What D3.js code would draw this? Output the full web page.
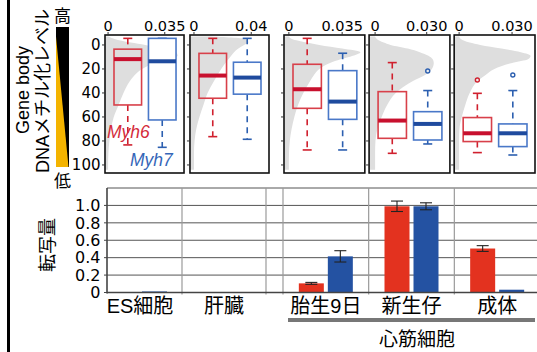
<!DOCTYPE html>
<html><head><meta charset="utf-8">
<script src="https://cdn.jsdelivr.net/npm/d3@7/dist/d3.min.js"></script>
<style>html,body{margin:0;padding:0;background:#fff;}svg{display:block;}</style>
</head><body>
<svg id="c" width="537" height="352"></svg>
<script>
// ---------------- data ----------------
const categories = ["ES細胞", "肝臓", "胎生9日", "新生仔", "成体"];
const cardiacGroupLabel = "心筋細胞";
const genes = ["Myh6", "Myh7"];

// transcription (bar chart)
const exprMyh6 = [0.003, 0.003, 0.105, 0.99, 0.505];
const errMyh6  = [0.001, 0.001, 0.011, 0.06, 0.033];
const exprMyh7 = [0.012, 0.004, 0.415, 0.99, 0.032];
const errMyh7  = [0.002, 0.001, 0.065, 0.04, 0.010];
const barTicks = [0, 0.2, 0.4, 0.6, 0.8, 1.0];
const barTickLabels = ["0", "0.2", "0.4", "0.6", "0.8", "1.0"];

// methylation boxplots: [whiskerLow, q1, median, q3, whiskerHigh]
const boxMyh6 = [[-5.5, 3.5, 11.8, 50, 83.3], [-5.5, 7, 25.5, 44.4, 76.4], [-5.5, 16.1, 36.9, 52.8, 87.5], [14.7, 38.9, 63, 77.8, 90.3], [40.3, 60.5, 73.6, 80.5, 89.7]];
const boxMyh7 = [[-5.5, -5.5, 13.6, 62.5, 85.3], [-5.5, 14.4, 27.2, 41, 78.6], [6.9, 21.4, 47.2, 62, 87.5], [38, 55.6, 65.8, 79.2, 82.5], [38, 65.8, 73.6, 84.7, 91.7]];
const outMyh6 = [[], [], [], [], [29.2]];
const outMyh7 = [[], [], [], [21.7], [25]];
const methTicks = [0, 20, 40, 60, 80, 100];

// density of methylation level (grey silhouettes)
const densLevels = [-7, -5, -2, 0, 3, 6, 9, 12, 15, 20, 25, 30, 40, 50, 60, 70, 80, 90, 100, 104];
const densES     = [0, 0.004, 0.014, 0.023, 0.034, 0.042, 0.043, 0.036, 0.029, 0.021, 0.0165, 0.0135, 0.0095, 0.0065, 0.0035, 0.0018, 0.0008, 0.0002, 0, 0];
const densLiver  = [0.012, 0.036, 0.038, 0.035, 0.031, 0.028, 0.026, 0.024, 0.022, 0.019, 0.0165, 0.014, 0.0095, 0.0066, 0.0038, 0.0016, 0.0004, 0, 0, 0];
const densE9     = [0, 0.002, 0.012, 0.020, 0.035, 0.047, 0.042, 0.034, 0.027, 0.020, 0.0165, 0.014, 0.0095, 0.006, 0.0036, 0.0018, 0.0006, 0.0001, 0, 0];
const densNeo    = [0, 0.001, 0.005, 0.009, 0.019, 0.026, 0.031, 0.0335, 0.0341, 0.033, 0.029, 0.022, 0.012, 0.007, 0.0038, 0.0013, 0.0002, 0, 0, 0];
const densAdult  = [0, 0.001, 0.006, 0.012, 0.024, 0.035, 0.0405, 0.039, 0.030, 0.020, 0.015, 0.0105, 0.006, 0.0035, 0.0015, 0.0002, 0, 0, 0, 0];
const densities = [densES, densLiver, densE9, densNeo, densAdult];
const densAxisLim = [[-0.0019, 0.0469], [-0.0028, 0.0524], [-0.0032, 0.0499], [-0.0035, 0.0435], [-0.0028, 0.043]];
const densTicks = [[0, 0.035], [0, 0.04], [0, 0.035], [0, 0.030], [0, 0.030]];
const densTickLabels = [["0", "0.035"], ["0", "0.04"], ["0", "0.035"], ["0", "0.030"], ["0", "0.030"]];

// ---------------- style ----------------
const NUM = "'DejaVu Sans', sans-serif";
const JP = "'Liberation Sans', 'Noto Sans CJK JP', sans-serif";
const RED_BAR = "#e3321f", BLUE_BAR = "#2452a2";
const geneColor = {Myh6: {box: "#d8404a", med: "#c8102e", wh: "#d0202e", fill: "none"},
                   Myh7: {box: "#4a78c8", med: "#1f4b9e", wh: "#2c5fb0", fill: "#fff"}};

const svg = d3.select("#c");
svg.append("rect").attr("width", 537).attr("height", 352).attr("fill", "#fff");

// left black rule
svg.append("rect").attr("x", 7).attr("y", 0).attr("width", 3).attr("height", 352).attr("fill", "#000");

// ---------------- colour key ----------------
svg.append("rect").attr("x", 56).attr("y", 27).attr("width", 13).attr("height", 140).attr("fill", "#000");
svg.append("path").attr("d", "M56,36.5L56,167L68.5,167Z").attr("fill", "#f4b400");
svg.append("text").attr("x", 62.5).attr("y", 22).attr("text-anchor", "middle")
  .attr("font-family", JP).attr("font-size", 17).text("高");
svg.append("text").attr("x", 62.5).attr("y", 187).attr("text-anchor", "middle")
  .attr("font-family", JP).attr("font-size", 17).text("低");
svg.append("text").attr("transform", "translate(29,90) rotate(-90)").attr("text-anchor", "middle")
  .attr("font-family", JP).attr("font-size", 18).text("Gene body");
svg.append("text").attr("transform", "translate(49,91) rotate(-90)").attr("text-anchor", "middle")
  .attr("font-family", JP).attr("font-size", 18).text("DNAメチル化レベル");

// ---------------- top: methylation panels ----------------
const yM = d3.scaleLinear().domain([-8.3, 106.7]).range([35, 173]);
const pA = d3.scaleBand().domain(categories.slice(0, 2)).range([105, 269]).paddingInner(0.07);
const pB = d3.scaleBand().domain(categories.slice(2)).range([284, 535]).paddingInner(0.05);
const panelScale = c => (pA.domain().includes(c) ? pA : pB);

categories.forEach((cat, i) => {
  const ps = panelScale(cat);
  const left = ps(cat), w = ps.bandwidth(), right = left + w;
  const g = svg.append("g");
  const xD = d3.scaleLinear().domain(densAxisLim[i]).range([left, right]);
  const clipId = "clip" + i;
  svg.append("clipPath").attr("id", clipId).append("rect")
    .attr("x", left).attr("y", yM.range()[0]).attr("width", w).attr("height", yM.range()[1] - yM.range()[0]);

  const area = d3.area().curve(d3.curveMonotoneY)
    .y(d => yM(d[0])).x0(xD.range()[0]).x1(d => xD(d[1]));
  g.append("path").attr("clip-path", `url(#${clipId})`)
    .attr("d", area(densLevels.map((l, k) => [l, densities[i][k]])))
    .attr("fill", "#dedede");

  const gx = d3.scaleBand().domain(genes).range([left + 9, right - 8]).paddingInner(0.2);
  const stats = {Myh6: boxMyh6[i], Myh7: boxMyh7[i]};
  const outs = {Myh6: outMyh6[i], Myh7: outMyh7[i]};
  genes.forEach(gn => {
    const [lo, q1, md, q3, hi] = stats[gn];
    const col = geneColor[gn];
    const bx = gx(gn), bw = gx.bandwidth(), cx = bx + bw / 2;
    [[lo, q1], [q3, hi]].forEach(([a, b]) => {
      if (b > a) g.append("line").attr("x1", cx).attr("x2", cx).attr("y1", yM(a)).attr("y2", yM(b))
        .attr("stroke", col.wh).attr("stroke-width", 1.6).attr("stroke-dasharray", "6,5");
    });
    [lo, hi].forEach(v => g.append("line").attr("x1", cx - 4.5).attr("x2", cx + 4.5)
      .attr("y1", yM(v)).attr("y2", yM(v)).attr("stroke", col.wh).attr("stroke-width", 1.6));
    g.append("rect").attr("x", bx).attr("y", yM(q1)).attr("width", bw).attr("height", yM(q3) - yM(q1))
      .attr("fill", col.fill).attr("stroke", col.box).attr("stroke-width", 1.6);
    g.append("line").attr("x1", bx).attr("x2", bx + bw).attr("y1", yM(md)).attr("y2", yM(md))
      .attr("stroke", col.med).attr("stroke-width", 4);
    outs[gn].forEach(v => g.append("circle").attr("cx", cx).attr("cy", yM(v)).attr("r", 2)
      .attr("fill", "#fff").attr("fill-opacity", 0.4).attr("stroke", col.wh).attr("stroke-width", 1.4));
  });

  g.append("rect").attr("x", left).attr("y", yM.range()[0]).attr("width", w).attr("height", yM.range()[1] - yM.range()[0])
    .attr("fill", "none").attr("stroke", "#111").attr("stroke-width", 1.6);
  methTicks.forEach(t => g.append("line").attr("x1", left - 3).attr("x2", left).attr("y1", yM(t)).attr("y2", yM(t))
    .attr("stroke", "#333").attr("stroke-width", 1));
  densTicks[i].forEach((t, k) => {
    g.append("line").attr("x1", xD(t)).attr("x2", xD(t)).attr("y1", yM.range()[0] - 3).attr("y2", yM.range()[0])
      .attr("stroke", "#333").attr("stroke-width", 1);
    g.append("text").attr("x", xD(t)).attr("y", 30.5).attr("text-anchor", "middle")
      .attr("font-family", NUM).attr("font-size", 14.5).text(densTickLabels[i][k]);
  });
  if (i === 0) {
    methTicks.forEach(t => g.append("text").attr("x", 100.5).attr("y", yM(t)).attr("dy", "0.36em")
      .attr("text-anchor", "end").attr("font-family", NUM).attr("font-size", 15).text(String(t)));
  }
});

// gene labels
svg.append("text").attr("x", 107).attr("y", 138).attr("font-family", JP).attr("font-style", "italic")
  .attr("font-size", 17.5).attr("fill", "#d42b3a").text(genes[0]);
svg.append("text").attr("x", 130).attr("y", 166).attr("font-family", JP).attr("font-style", "italic")
  .attr("font-size", 17.5).attr("fill", "#3566b8").text(genes[1]);

// ---------------- bottom: transcription bars ----------------
const yB = d3.scaleLinear().domain([0, 1.2]).range([292.5, 188]);
const xA = d3.scaleBand().domain(categories.slice(0, 2)).range([98, 266]);
const xB = d3.scaleBand().domain(categories.slice(2)).range([283, 540]);
const xCat = c => (xA.domain().includes(c) ? xA : xB);
const axisX = 107, rightX = 537;

d3.range(1, 7).map(k => k * 0.2).forEach(v => svg.append("line")
  .attr("x1", axisX).attr("x2", rightX).attr("y1", yB(v)).attr("y2", yB(v))
  .attr("stroke", "#555").attr("stroke-width", 1));
const vlines = [xA(categories[1]), xA(categories[1]) + xA.bandwidth(), ...categories.slice(2).map(c => xB(c))];
vlines.forEach(x => svg.append("line").attr("x1", x).attr("x2", x).attr("y1", yB(1.2)).attr("y2", yB(0) + 2)
  .attr("stroke", "#9a9a9a").attr("stroke-width", 1.2));

const exprByGene = {Myh6: exprMyh6, Myh7: exprMyh7};
const errByGene = {Myh6: errMyh6, Myh7: errMyh7};
const barColor = {Myh6: RED_BAR, Myh7: BLUE_BAR};
categories.forEach((c, i) => {
  const s = xCat(c);
  const cx = s(c) + s.bandwidth() / 2;
  const bx = d3.scaleBand().domain(genes).range([cx - 27, cx + 27]).paddingInner(4 / 29);
  genes.forEach(gn => {
    const v = exprByGene[gn][i], e = errByGene[gn][i];
    svg.append("rect").attr("x", bx(gn)).attr("width", bx.bandwidth())
      .attr("y", yB(v)).attr("height", yB(0) - yB(v)).attr("fill", barColor[gn]);
    const ex = bx(gn) + bx.bandwidth() / 2;
    if (v > 0.05) {
      svg.append("line").attr("x1", ex).attr("x2", ex).attr("y1", yB(v - e)).attr("y2", yB(v + e))
        .attr("stroke", "#222").attr("stroke-width", 1.1);
      [v - e, v + e].forEach(t => svg.append("line").attr("x1", ex - 6).attr("x2", ex + 6)
        .attr("y1", yB(t)).attr("y2", yB(t)).attr("stroke", "#222").attr("stroke-width", 1.1));
    }
  });
  svg.append("text").attr("x", cx).attr("y", 313).attr("text-anchor", "middle")
    .attr("font-family", JP).attr("font-size", 20).text(c);
});

svg.append("line").attr("x1", axisX).attr("x2", rightX).attr("y1", yB(0)).attr("y2", yB(0))
  .attr("stroke", "#444").attr("stroke-width", 1.5);
svg.append("line").attr("x1", axisX).attr("x2", axisX).attr("y1", yB(1.2)).attr("y2", yB(0) + 1)
  .attr("stroke", "#444").attr("stroke-width", 1.6);
barTicks.forEach((t, k) => {
  svg.append("line").attr("x1", axisX - 3).attr("x2", axisX).attr("y1", yB(t)).attr("y2", yB(t))
    .attr("stroke", "#444").attr("stroke-width", 1);
  svg.append("text").attr("x", 100.5).attr("y", yB(t)).attr("dy", "0.36em").attr("text-anchor", "end")
    .attr("font-family", NUM).attr("font-size", 16).text(barTickLabels[k]);
});
svg.append("text").attr("transform", "translate(54,245) rotate(-90)").attr("text-anchor", "middle")
  .attr("font-family", JP).attr("font-size", 18).attr("fill", "#000").text("転写量");

svg.append("rect").attr("x", xB.range()[0] + 5).attr("y", 318).attr("width", 535 - xB.range()[0] - 5).attr("height", 4)
  .attr("fill", "#777");
svg.append("text").attr("x", 417).attr("y", 346).attr("text-anchor", "middle")
  .attr("font-family", JP).attr("font-size", 19).text(cardiacGroupLabel);
</script>
</body></html>
